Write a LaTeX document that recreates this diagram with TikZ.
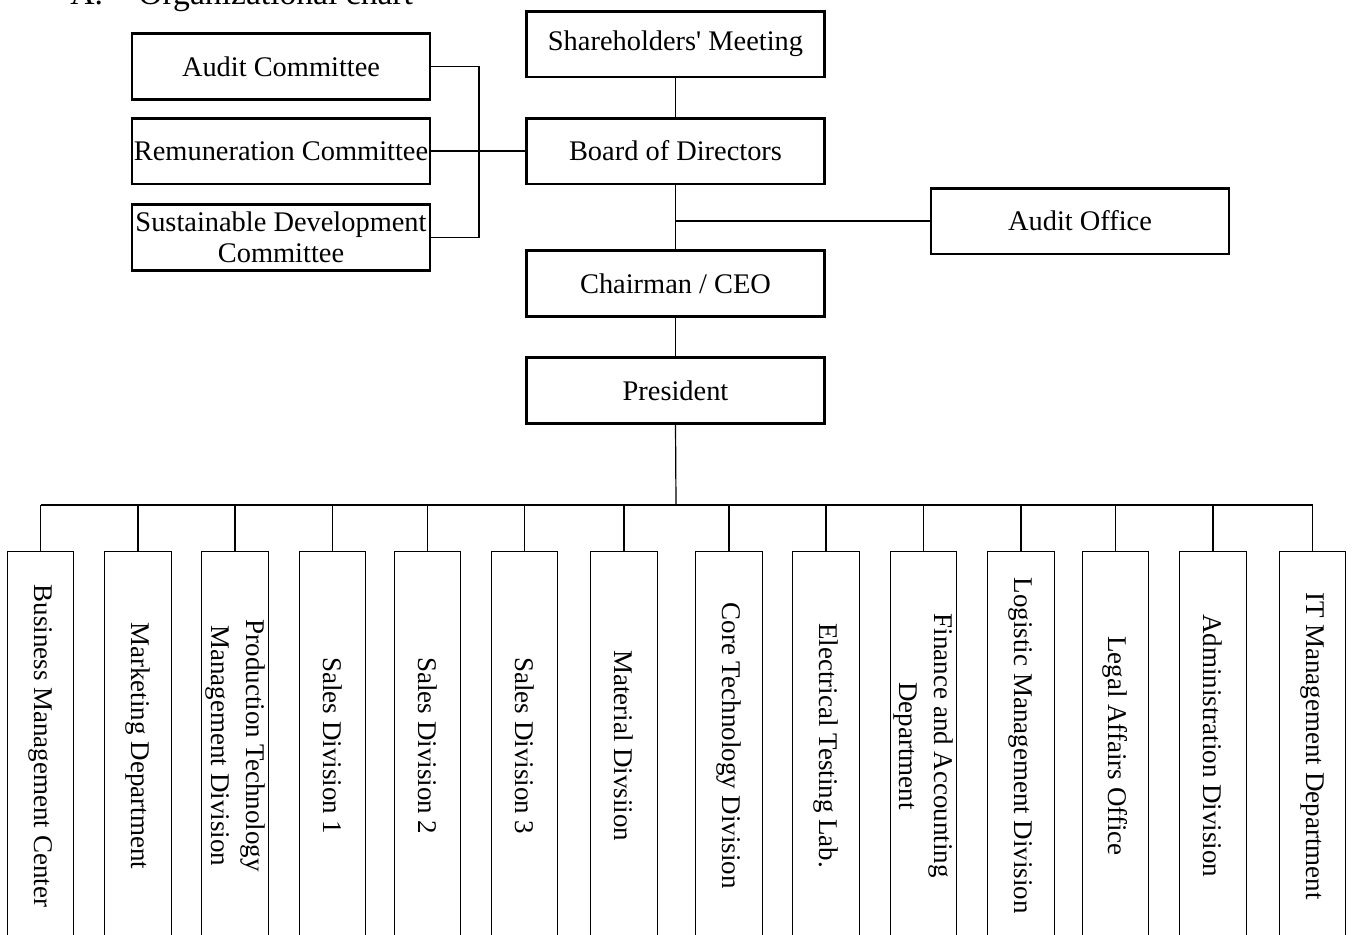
\documentclass[tikz,border=0pt]{standalone}
\usepackage{fontspec}
\setmainfont{Liberation Serif}
\newfontfamily\topfont{Liberation Serif}
\begin{document}
\begin{tikzpicture}[x=0.5pt,y=-0.5pt,
  topbox/.style={draw, line width=1.3pt, minimum width=149pt, minimum height=32.8pt,
    inner sep=0pt, align=center, font=\topfont\fontsize{14.2}{15.5}\selectfont},
  unitbox/.style={draw, line width=0.6pt, rotate=-90, minimum width=194pt,
    minimum height=33.3pt, inner sep=0pt, align=center,
    font=\fontsize{13.5}{17.5}\selectfont},
  titletext/.style={anchor=base west, inner sep=0pt, font=\topfont\fontsize{16.8}{18}\selectfont},
  link/.style={line width=0.6pt}]
\clip (0,0) rectangle (1352,934);

% title (cut at the top edge)
\node[titletext] (tnum) at (70,4) {A.};
\node[titletext] (ttl) at (138,4) {Organizational chart};

% top boxes
\node[topbox] (sm)   at (675.5,44)    {Shareholders' Meeting};
\node[topbox] (bod)  at (675.5,151)   {Board of Directors};
\node[topbox] (ceo)  at (675.5,283.5) {Chairman / CEO};
\node[topbox] (pres) at (675.5,390.5) {President};
\node[topbox] (ac)   at (281,66.5)    {Audit Committee};
\node[topbox] (rc)   at (281,151)     {Remuneration Committee};
\node[topbox] (sdc)  at (281,237.5)   {Sustainable Development\\Committee};
\node[topbox] (ao)   at (1080,221)    {Audit Office};

% top connectors
\coordinate (cj) at (479,151);
\draw[link] (ac.east) -| (cj) |- (sdc.east);
\draw[link] (rc.east) -- (bod.west);
\draw[link] (sm) -- (bod);
\draw[link] (bod) -- (ceo);
\draw[link] (ceo) -- (pres);
\draw[link] (ao.west) -- (ao.west -| bod.south);

% units
\node[unitbox] (u1)  at (40.5,745.75)   {Business Management Center};
\node[unitbox] (u2)  at (138,745.75)    {Marketing Department};
\node[unitbox] (u3)  at (235,745.75)    {Production Technology\\Management Division};
\node[unitbox] (u4)  at (332.5,745.75)  {Sales Division 1};
\node[unitbox] (u5)  at (427.5,745.75)  {Sales Division 2};
\node[unitbox] (u6)  at (524.5,745.75)  {Sales Division 3};
\node[unitbox] (u7)  at (624,745.75)    {Material Divsiion};
\node[unitbox] (u8)  at (729,745.75)    {Core Technology Division};
\node[unitbox] (u9)  at (826,745.75)    {Electrical Testing Lab.};
\node[unitbox] (u10) at (923.5,745.75)  {Finance and Accounting\\Department};
\node[unitbox] (u11) at (1021,745.75)   {Logistic Management Division};
\node[unitbox] (u12) at (1115.5,745.75) {Legal Affairs Office};
\node[unitbox] (u13) at (1213,745.75)   {Administration Division};
\node[unitbox] (u14) at (1312.5,745.75) {IT Management Department};

% bus
\coordinate (bus) at (676,505);
\draw[link] (pres.south) -- (bus);
\draw[link] (u1.west |- bus) -- (u14.west |- bus);
\foreach \i in {1,...,14} {
  \draw[link] (u\i.west) -- (u\i.west |- bus);
}
\end{tikzpicture}
\end{document}
